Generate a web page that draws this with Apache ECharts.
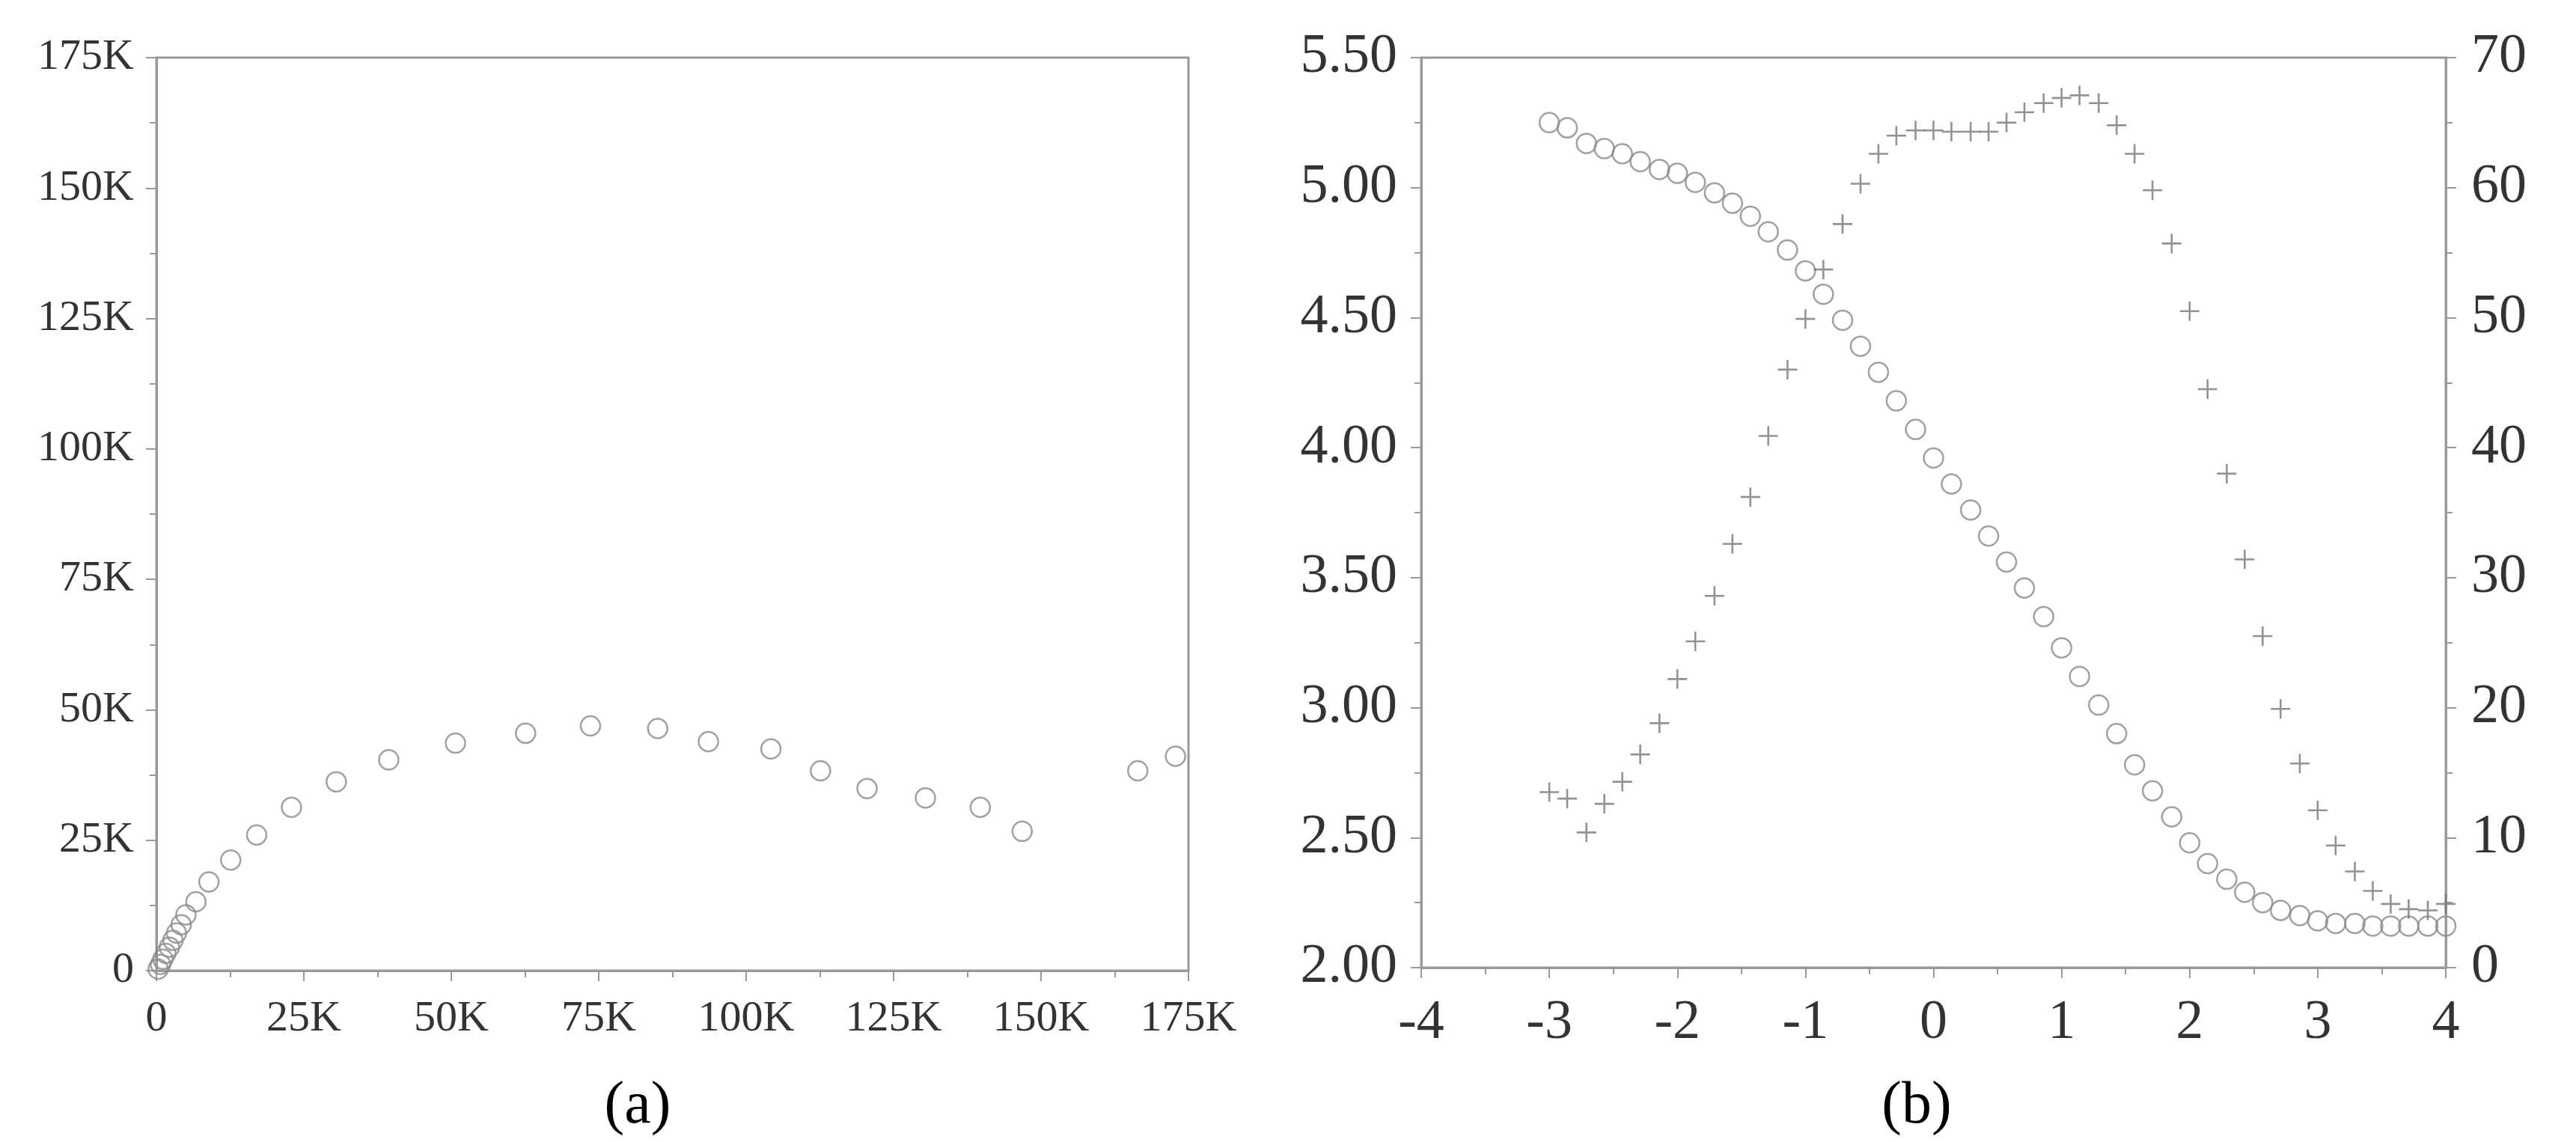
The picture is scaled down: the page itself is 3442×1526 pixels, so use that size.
<!DOCTYPE html>
<html><head><meta charset="utf-8">
<script src="https://cdn.jsdelivr.net/npm/echarts@6/dist/echarts.min.js"></script>
<style>html,body{margin:0;padding:0;background:#fff}#c{width:3442px;height:1526px}</style>
</head><body><div id="c"></div>
<script>
// Panel (a): values in K
var aX = [0.3, 0.7, 1.1, 1.6, 2.2, 2.8, 3.4, 4.2, 5.0, 6.7, 8.9, 12.6, 17.0, 22.9, 30.5, 39.4, 50.7, 62.6, 73.6, 85.0, 93.6, 104.2, 112.6, 120.5, 130.4, 139.7, 146.8, 166.4, 172.8];
var aY = [0.3, 1.2, 2.2, 3.3, 4.5, 5.8, 7.2, 8.8, 10.7, 13.2, 17.0, 21.2, 26.0, 31.3, 36.2, 40.4, 43.6, 45.5, 46.9, 46.4, 43.9, 42.5, 38.3, 34.9, 33.1, 31.3, 26.7, 38.3, 41.1];
var aTicks = [0, 25, 50, 75, 100, 125, 150, 175];
// Panel (b)
var bX = [-3.00,-2.86,-2.71,-2.57,-2.43,-2.29,-2.14,-2.00,-1.86,-1.71,-1.57,-1.43,-1.29,-1.14,-1.00,-0.86,-0.71,-0.57,-0.43,-0.29,-0.14,0.00,0.14,0.29,0.43,0.57,0.71,0.86,1.00,1.14,1.29,1.43,1.57,1.71,1.86,2.00,2.14,2.29,2.43,2.57,2.71,2.86,3.00,3.14,3.29,3.43,3.57,3.71,3.86,4.00];
var bCircles = [5.25,5.23,5.17,5.15,5.13,5.10,5.07,5.055,5.02,4.98,4.94,4.89,4.83,4.76,4.68,4.59,4.49,4.39,4.29,4.18,4.07,3.96,3.86,3.76,3.66,3.56,3.46,3.35,3.23,3.12,3.01,2.90,2.78,2.68,2.58,2.48,2.40,2.34,2.29,2.25,2.22,2.20,2.18,2.17,2.17,2.16,2.16,2.16,2.16,2.16];
var bCrosses = [13.5,13.0,10.4,12.6,14.3,16.4,18.8,22.2,25.1,28.6,32.6,36.2,40.9,46.0,49.9,53.7,57.2,60.3,62.6,64.0,64.4,64.4,64.3,64.3,64.3,65.0,65.8,66.5,66.9,67.1,66.5,64.8,62.6,59.8,55.7,50.5,44.5,38.0,31.4,25.5,19.9,15.7,12.1,9.4,7.4,5.9,4.9,4.5,4.4,4.9];

var FONT = '"Liberation Serif","DejaVu Serif",serif';
var AX = '#999', TXT = '#333', MK = '#8a8a8a';
function pair(xs, ys){ return xs.map(function(x,i){return [x, ys[i]];}); }
function kfmt(v){ return v === 0 ? '0' : v + 'K'; }
function axisBase(fs, pos){
  return {
    position: pos,
    axisLine:{show:true,onZero:false,lineStyle:{color:AX,width:3}},
    axisTick:{show:true,length:14,lineStyle:{color:AX,width:2}},
    minorTick:{show:true,splitNumber:2,length:9,lineStyle:{color:AX,width:2}},
    splitLine:{show:false},
    axisLabel:{fontFamily:FONT,fontSize:fs,color:TXT}
  };
}
var circleStyle = {color:'rgba(0,0,0,0)',borderColor:MK,borderWidth:2.5};
var plus = 'path://M45,0h10v45h45v10h-45v45h-10v-45h-45v-10h45z';

var chart = echarts.init(document.getElementById('c'));
chart.setOption({
  animation:false,
  backgroundColor:'#fff',
  title:[
    {text:'(a)',left:847,top:1474,textAlign:'center',textVerticalAlign:'middle',textStyle:{fontFamily:FONT,fontSize:80,fontWeight:'normal',color:'#000',rich:{}}},
    {text:'(b)',left:2556,top:1474,textAlign:'center',textVerticalAlign:'middle',textStyle:{fontFamily:FONT,fontSize:80,fontWeight:'normal',color:'#000'}}
  ],
  grid:[
    {left:209,top:77,width:1379,height:1220,show:true,borderColor:AX,borderWidth:3,backgroundColor:'rgba(0,0,0,0)'},
    {left:1899,top:77,width:1369,height:1216,show:true,borderColor:AX,borderWidth:3,backgroundColor:'rgba(0,0,0,0)'}
  ],
  xAxis:[
    Object.assign(axisBase(58,'bottom'),{gridIndex:0,type:'value',min:aTicks[0],max:aTicks[aTicks.length-1],interval:25,axisLabel:{fontFamily:FONT,fontSize:58,color:TXT,margin:36,formatter:kfmt}}),
    Object.assign(axisBase(74,'bottom'),{gridIndex:1,type:'value',min:-4,max:4,interval:1,axisLabel:{fontFamily:FONT,fontSize:74,color:TXT,margin:38}})
  ],
  yAxis:[
    Object.assign(axisBase(58,'left'),{gridIndex:0,type:'value',min:aTicks[0],max:aTicks[aTicks.length-1],interval:25,axisLabel:{fontFamily:FONT,fontSize:58,color:TXT,margin:30,formatter:kfmt}}),
    Object.assign(axisBase(74,'left'),{gridIndex:1,type:'value',min:2,max:5.5,interval:0.5,axisLabel:{fontFamily:FONT,fontSize:74,color:TXT,margin:32,formatter:function(v){return v.toFixed(2);}}}),
    Object.assign(axisBase(74,'right'),{gridIndex:1,type:'value',min:0,max:70,interval:10,axisLabel:{fontFamily:FONT,fontSize:74,color:TXT,margin:34}})
  ],
  series:[
    {type:'scatter',xAxisIndex:0,yAxisIndex:0,data:pair(aX,aY),symbol:'circle',symbolSize:26,itemStyle:circleStyle},
    {type:'scatter',xAxisIndex:1,yAxisIndex:1,data:pair(bX,bCircles),symbol:'circle',symbolSize:26,itemStyle:circleStyle},
    {type:'scatter',xAxisIndex:1,yAxisIndex:2,data:pair(bX,bCrosses),symbol:plus,symbolSize:26,itemStyle:{color:'#777'}}
  ]
});
</script></body></html>
